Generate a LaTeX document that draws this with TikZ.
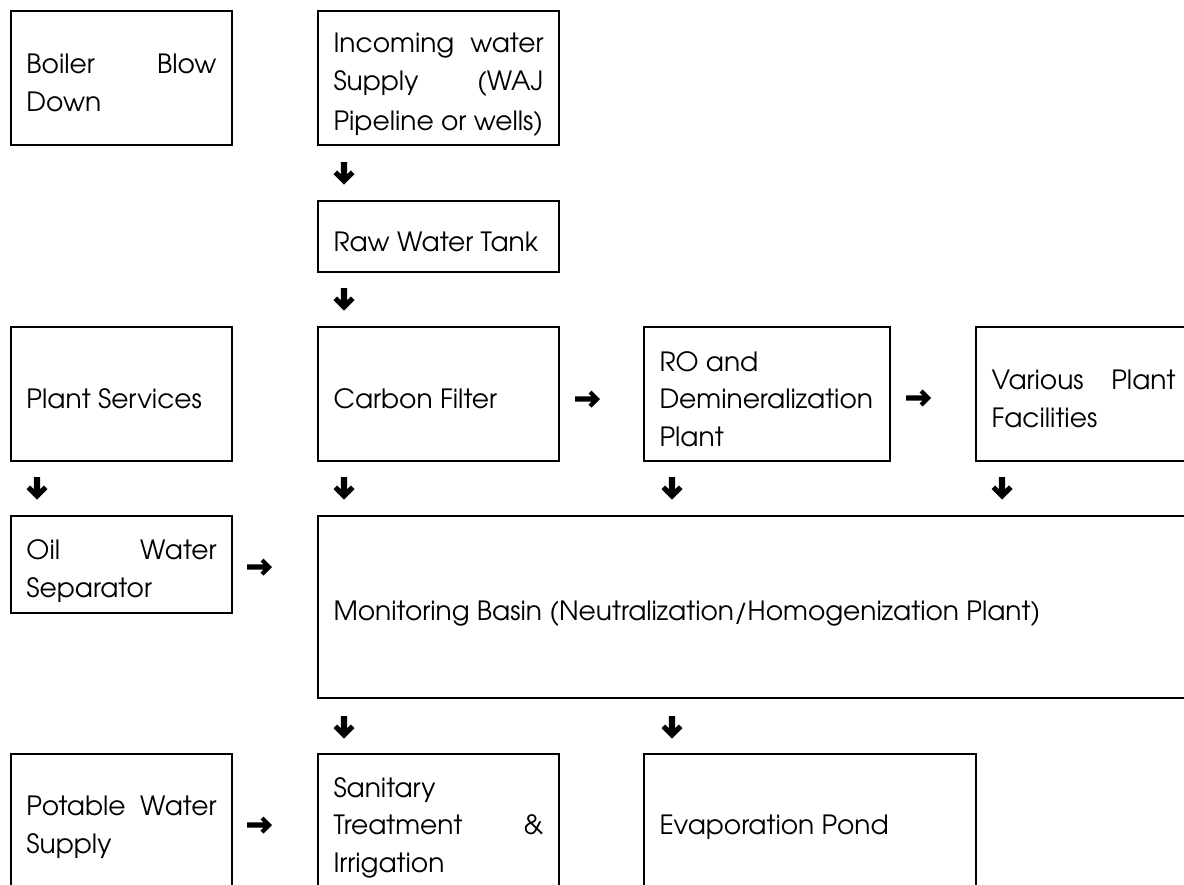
\documentclass[tikz,border=0pt]{standalone}
\usepackage{fontspec}
\setmainfont{texgyreadventor-regular.otf}
\newcommand{\bxstrut}{\rule[-4.25pt]{0pt}{37.5pt}}
\hyphenpenalty=10000
\exhyphenpenalty=10000
\tolerance=9999
\begin{document}
\begin{tikzpicture}[x=1pt,y=-1pt,
  box/.style={draw, line width=2pt, rectangle, inner xsep=15.5pt, inner ysep=0pt,
    outer sep=0pt, anchor=north west, align=justify,
    font=\fontsize{26.5}{37.5}\selectfont},
  downglyph/.pic={\fill (-3.2,0) -- (3.2,0) -- (3.2,12.22) -- (6.96,8.46) -- (10.5,12)
      -- (0,22.5) -- (-10.5,12) -- (-6.96,8.46) -- (-3.2,12.22) -- cycle;},
  rightglyph/.pic={\fill (0,-2.6) -- (16.46,-2.6) -- (13.53,-5.53) -- (16.5,-8.5) -- (25,0)
      -- (16.5,8.5) -- (13.53,5.53) -- (16.46,2.6) -- (0,2.6) -- cycle;}]
\useasboundingbox (0,0) rectangle (1184,884);
\fill[white] (0,0) rectangle (1184,884);
\clip (0,0) rectangle (1184,884);

% row 1
\node[box, minimum width=221pt, minimum height=134pt, text width=190pt] (boiler) at (11,11)
  {\bxstrut Boiler Blow\linebreak Down\bxstrut};
\node[box, minimum width=241pt, minimum height=134pt, text width=210pt] (incoming) at (318,11)
  {\bxstrut Incoming water\linebreak Supply (WAJ\linebreak Pipeline or wells)\bxstrut};
\node[box, minimum width=241pt, minimum height=71pt, text width=210pt] (raw) at (318,201)
  {\bxstrut Raw Water Tank\bxstrut};

% row 2
\node[box, minimum width=221pt, minimum height=134pt, text width=190pt] (services) at (11,327)
  {\bxstrut Plant Services\bxstrut};
\node[box, minimum width=241pt, minimum height=134pt, text width=210pt] (carbon) at (318,327)
  {\bxstrut Carbon Filter\bxstrut};
\node[box, minimum width=246pt, minimum height=134pt, text width=215pt] (ro) at (644,327)
  {\bxstrut RO and\\Demineralization\\Plant\bxstrut};
\node[box, minimum width=215pt, minimum height=134pt, text width=184pt] (various) at (976,327)
  {\bxstrut Various Plant\linebreak Facilities\bxstrut};

% row 3
\node[box, minimum width=221pt, minimum height=97pt, text width=190pt] (oil) at (11,516)
  {\bxstrut Oil Water\linebreak Separator\bxstrut};
\node[box, minimum width=882pt, minimum height=182pt, text width=851pt] (basin) at (318,516)
  {\bxstrut Monitoring Basin (Neutralization/Homogenization Plant)\bxstrut};

% row 4
\node[box, minimum width=221pt, minimum height=133pt, text width=190pt] (potable) at (11,754)
  {\bxstrut Potable Water\linebreak Supply\bxstrut};
\node[box, minimum width=241pt, minimum height=134pt, text width=210pt] (sanitary) at (318,754)
  {\bxstrut Sanitary\\Treatment \&\linebreak Irrigation\bxstrut};
\node[box, minimum width=332pt, minimum height=133pt, text width=301pt] (pond) at (644,754)
  {\bxstrut Evaporation Pond\bxstrut};

% arrow glyph positions
\coordinate (d1) at (344,162);
\coordinate (d2) at (344,288);
\coordinate (d3) at (37,477);
\coordinate (d4) at (344,477);
\coordinate (d5) at (672,477);
\coordinate (d6) at (1002,477);
\coordinate (d7) at (344,716);
\coordinate (d8) at (672,716);
\coordinate (r1) at (575,399);
\coordinate (r2) at (906,398);
\coordinate (r3) at (247,567);
\coordinate (r4) at (247,825);

\foreach \n in {1,...,8} \pic at (d\n) {downglyph};
\foreach \n in {1,...,4} \pic at (r\n) {rightglyph};
\end{tikzpicture}
\end{document}
